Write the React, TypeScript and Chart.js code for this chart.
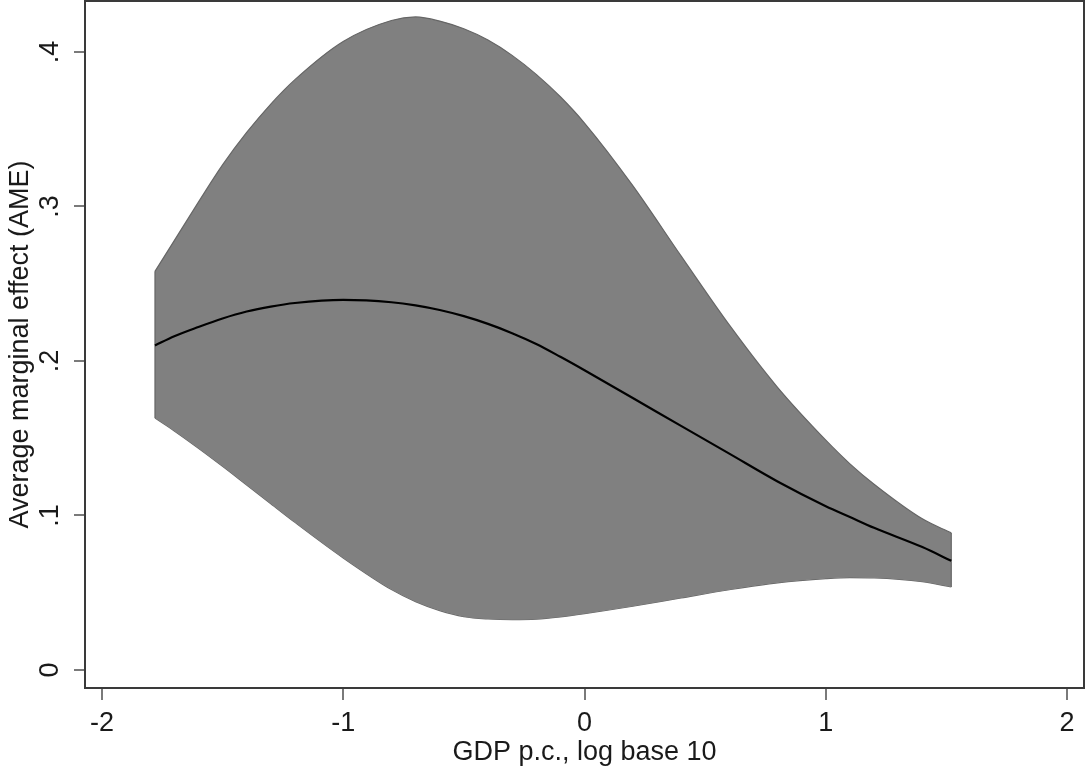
import React, { useEffect, useRef } from "react";
import { Chart, registerables } from "chart.js";

Chart.register(...registerables);

// GDP p.c., log base 10 (x positions of the estimates)
const gdpLog = [-1.78, -1.7, -1.6, -1.5, -1.4, -1.3, -1.2, -1.0, -0.8, -0.7, -0.6, -0.5, -0.4, -0.3, -0.2, -0.1, 0, 0.2, 0.4, 0.6, 0.8, 1.0, 1.1, 1.2, 1.4, 1.52];
// Average marginal effect (point estimate)
const ameValues = [0.21, 0.216, 0.222, 0.2275, 0.232, 0.2352, 0.2375, 0.2395, 0.238, 0.236, 0.233, 0.229, 0.224, 0.218, 0.211, 0.2027, 0.194, 0.176, 0.158, 0.14, 0.122, 0.106, 0.099, 0.092, 0.0795, 0.0706];
// Upper confidence bound
const upperCI = [0.258, 0.2779, 0.3028, 0.3269, 0.3479, 0.3663, 0.3821, 0.4068, 0.4204, 0.4227, 0.42, 0.415, 0.4077, 0.3978, 0.3855, 0.371, 0.354, 0.3135, 0.268, 0.2233, 0.1829, 0.1487, 0.1334, 0.1202, 0.0978, 0.0887];
// Lower confidence bound
const lowerCI = [0.163, 0.1547, 0.1435, 0.1318, 0.1197, 0.1076, 0.0955, 0.0725, 0.052, 0.0442, 0.0384, 0.0345, 0.033, 0.0325, 0.0328, 0.0343, 0.0364, 0.0412, 0.0466, 0.0519, 0.0564, 0.0591, 0.0598, 0.0596, 0.0571, 0.0537];

const xTicks = [-2, -1, 0, 1, 2];
const xTickLabels = ["-2", "-1", "0", "1", "2"];
const yTicks = [0, 0.1, 0.2, 0.3, 0.4];
const yTickLabels = ["0", ".1", ".2", ".3", ".4"];

const xTitle = "GDP p.c., log base 10";
const yTitle = "Average marginal effect (AME)";

const FONT = "'Liberation Sans', Arial, Helvetica, sans-serif";
const FONT_SIZE = 27;

const toPoints = (ys: number[]) => gdpLog.map((x, i) => ({ x, y: ys[i] }));

const framePlugin = {
  id: "frame",
  afterDraw(chart: any) {
    const { ctx, chartArea } = chart;
    ctx.save();
    ctx.strokeStyle = "#3a3a3a";
    ctx.lineWidth = 2;
    ctx.strokeRect(chartArea.left, chartArea.top, chartArea.right - chartArea.left, chartArea.bottom - chartArea.top);
    ctx.restore();
  },
};

export default function App() {
  const canvasRef = useRef<HTMLCanvasElement | null>(null);

  useEffect(() => {
    if (!canvasRef.current) return;
    const last = gdpLog.length - 1;
    const chart = new Chart(canvasRef.current, {
      type: "line",
      data: {
        datasets: [
          {
            label: "AME",
            data: toPoints(ameValues),
            borderColor: "#000000",
            borderWidth: 2.2,
            pointRadius: 0,
            fill: false,
            cubicInterpolationMode: "monotone",
            order: -2,
          },
          {
            label: "Upper",
            data: toPoints(upperCI),
            borderColor: "#666666",
            borderWidth: 1.2,
            backgroundColor: "#808080",
            pointRadius: 0,
            fill: "+1",
            cubicInterpolationMode: "monotone",
            order: 1,
          },
          {
            label: "Lower",
            data: toPoints(lowerCI),
            borderColor: "#666666",
            borderWidth: 1.2,
            pointRadius: 0,
            fill: false,
            cubicInterpolationMode: "monotone",
            order: 2,
          },
          {
            label: "LeftEdge",
            data: [
              { x: gdpLog[0], y: lowerCI[0] },
              { x: gdpLog[0], y: upperCI[0] },
            ],
            borderColor: "#666666",
            borderWidth: 1.2,
            pointRadius: 0,
            fill: false,
            order: -1,
          },
          {
            label: "RightEdge",
            data: [
              { x: gdpLog[last], y: lowerCI[last] },
              { x: gdpLog[last], y: upperCI[last] },
            ],
            borderColor: "#666666",
            borderWidth: 1.2,
            pointRadius: 0,
            fill: false,
            order: -1,
          },
        ],
      },
      options: {
        responsive: false,
        animation: false,
        events: [],
        layout: { padding: { top: 1, right: 2, left: 0, bottom: 0 } },
        plugins: {
          legend: { display: false },
          tooltip: { enabled: false },
        },
        scales: {
          x: {
            type: "linear",
            min: -2.07,
            max: 2.07,
            afterBuildTicks: (scale: any) => {
              scale.ticks = xTicks.map((v) => ({ value: v }));
            },
            afterFit: (scale: any) => {
              scale.height = 83;
              scale.paddingLeft = 0;
              scale.paddingRight = 0;
            },
            grid: {
              drawOnChartArea: false,
              drawTicks: true,
              tickLength: 12,
              color: "#7a7a7a",
              lineWidth: 2,
            },
            border: { display: false },
            ticks: {
              color: "#1a1a1a",
              font: { family: FONT, size: FONT_SIZE },
              padding: 7,
              maxRotation: 0,
              autoSkip: false,
              callback: (value: any) => {
                const i = xTicks.indexOf(Number(value));
                return i >= 0 ? xTickLabels[i] : "";
              },
            },
            title: {
              display: true,
              text: xTitle,
              color: "#1a1a1a",
              font: { family: FONT, size: FONT_SIZE },
              padding: { top: 0, bottom: 2 },
            },
          },
          y: {
            type: "linear",
            min: -0.0117,
            max: 0.433,
            afterBuildTicks: (scale: any) => {
              scale.ticks = yTicks.map((v) => ({ value: v }));
            },
            afterFit: (scale: any) => {
              scale.width = 85;
              scale.paddingTop = 0;
              scale.paddingBottom = 0;
            },
            grid: {
              drawOnChartArea: false,
              drawTicks: true,
              tickLength: 11,
              color: "#7a7a7a",
              lineWidth: 2,
            },
            border: { display: false },
            ticks: {
              color: "#1a1a1a",
              font: { family: FONT, size: FONT_SIZE },
              padding: 12,
              minRotation: 90,
              maxRotation: 90,
              crossAlign: "center",
              autoSkip: false,
              callback: (value: any) => {
                const i = yTicks.findIndex((t) => Math.abs(t - Number(value)) < 1e-9);
                return i >= 0 ? yTickLabels[i] : "";
              },
            },
            title: {
              display: true,
              text: yTitle,
              color: "#1a1a1a",
              font: { family: FONT, size: FONT_SIZE },
              padding: { top: 4, bottom: 0 },
            },
          },
        },
      },
      plugins: [framePlugin],
    } as any);
    return () => chart.destroy();
  }, []);

  return (
    <div style={{ position: "absolute", left: 0, top: 0, width: 1086, height: 771, background: "#ffffff" }}>
      <canvas ref={canvasRef} width={1086} height={771} style={{ display: "block" }} />
    </div>
  );
}
